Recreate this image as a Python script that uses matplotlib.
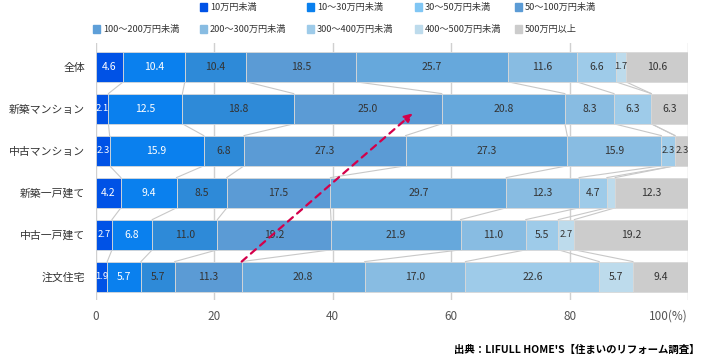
import matplotlib.pyplot as plt
import numpy as np
from matplotlib.patches import Rectangle

plt.rcParams['font.family'] = ['Noto Sans CJK JP', 'DejaVu Sans']

categories = ["全体", "新築マンション", "中古マンション", "新築一戸建て", "中古一戸建て", "注文住宅"]
series = ["10万円未満", "10～30万円未満", "30～50万円未満", "50～100万円未満",
          "100～200万円未満", "200～300万円未満", "300～400万円未満", "400～500万円未満", "500万円以上"]
values = [
    [4.6, 10.4, 10.4, 18.5, 25.7, 11.6, 6.6, 1.7, 10.6],
    [2.1, 12.5, 18.8, 25.0, 20.8, 8.3, 6.3, 0.0, 6.3],
    [2.3, 15.9, 6.8, 27.3, 27.3, 15.9, 2.3, 0.0, 2.3],
    [4.2, 9.4, 8.5, 17.5, 29.7, 12.3, 4.7, 1.4, 12.3],
    [2.7, 6.8, 11.0, 19.2, 21.9, 11.0, 5.5, 2.7, 19.2],
    [1.9, 5.7, 5.7, 11.3, 20.8, 17.0, 22.6, 5.7, 9.4],
]
xticks = [0, 20, 40, 60, 80, 100]
xticklabels = ["0", "20", "40", "60", "80", "100(%)"]

bar_colors = ["#0052e6", "#0a80ee", "#2e8ad8", "#5b9bd5", "#66a8dc",
              "#88bce2", "#9ecbe9", "#bddbec", "#cccccc"]
legend_colors = ["#0052e6", "#0a80ee", "#80c6f4", "#5b9bd5", "#5e9fd8",
                 "#88bce2", "#9ecbe9", "#bddbec", "#cccccc"]
text_colors = ["white", "white"] + ["#333333"] * 7

fig = plt.figure(figsize=(7.06, 3.57), dpi=100)
ax = fig.add_axes([96 / 706, 1 - 300 / 357, 592 / 706, 257 / 357])

vals = np.array(values)
cum = np.cumsum(vals, axis=1)
starts = cum - vals
ypos = np.arange(len(categories))
h = 0.72

for j in range(len(series)):
    ax.barh(ypos, vals[:, j], left=starts[:, j], height=h, color=bar_colors[j],
            edgecolor="#d8d8d8", linewidth=0.6, zorder=3)
    for i in range(len(categories)):
        v = vals[i, j]
        if v < 1.5:
            continue
        fs = 6.8 if v < 3 else 7.5
        ax.text(starts[i, j] + v / 2, ypos[i], f"{v:.1f}", ha="center", va="center",
                fontsize=fs, color=text_colors[j], zorder=5)

# connector lines between rows
for i in range(len(categories) - 1):
    for j in range(len(series) - 1):
        ax.plot([cum[i, j], cum[i + 1, j]], [ypos[i] + h / 2, ypos[i + 1] - h / 2],
                color="#c8c8c8", linewidth=0.8, zorder=2)

ax.set_xlim(0, 100)
ax.set_ylim(5 + 23.3 / 42, -23.7 / 42)
ax.set_yticks(ypos)
ax.set_yticklabels(categories, fontsize=7.8, color="#333333")
ax.set_xticks(xticks)
ax.set_xticklabels(xticklabels, fontsize=8.5, color="#555555")
ax.get_xticklabels()[-1].set_horizontalalignment("right")
ax.tick_params(length=0, pad=8)
ax.tick_params(axis="x", pad=7)
for s in ax.spines.values():
    s.set_visible(False)
ax.grid(axis="x", color="#d0d0d0", linewidth=1, zorder=0)
ax.set_axisbelow(True)

# red dashed arrow
ax.annotate("", xy=(53.5, 1.11), xytext=(24.6, 5 - h / 2),
            arrowprops=dict(arrowstyle="-|>", color="#d4004a", lw=1.6,
                            linestyle=(0, (3, 2.5)), mutation_scale=12,
                            shrinkA=0, shrinkB=0), zorder=6)

# legend drawn manually (first row starts at the second column)
col_x = [93, 200, 307, 415, 515]
row_y = [7, 29]
slots = [(0, 1), (0, 2), (0, 3), (0, 4), (1, 0), (1, 1), (1, 2), (1, 3), (1, 4)]
for k, (r, c) in enumerate(slots):
    x0 = col_x[c] / 706
    y0 = 1 - row_y[r] / 357
    fig.patches.append(Rectangle((x0, y0 - 3.5 / 357), 7 / 706, 7 / 357,
                                 transform=fig.transFigure, color=legend_colors[k]))
    fig.text(x0 + 10 / 706, y0, series[k], fontsize=6.6, va="center", ha="left", color="#333333")

fig.text(700 / 706, 1 - 350 / 357, "出典：LIFULL HOME'S【住まいのリフォーム調査】",
         fontsize=7.5, ha="right", va="center", color="black", fontweight="bold")

fig.savefig("out.png", dpi=100)
